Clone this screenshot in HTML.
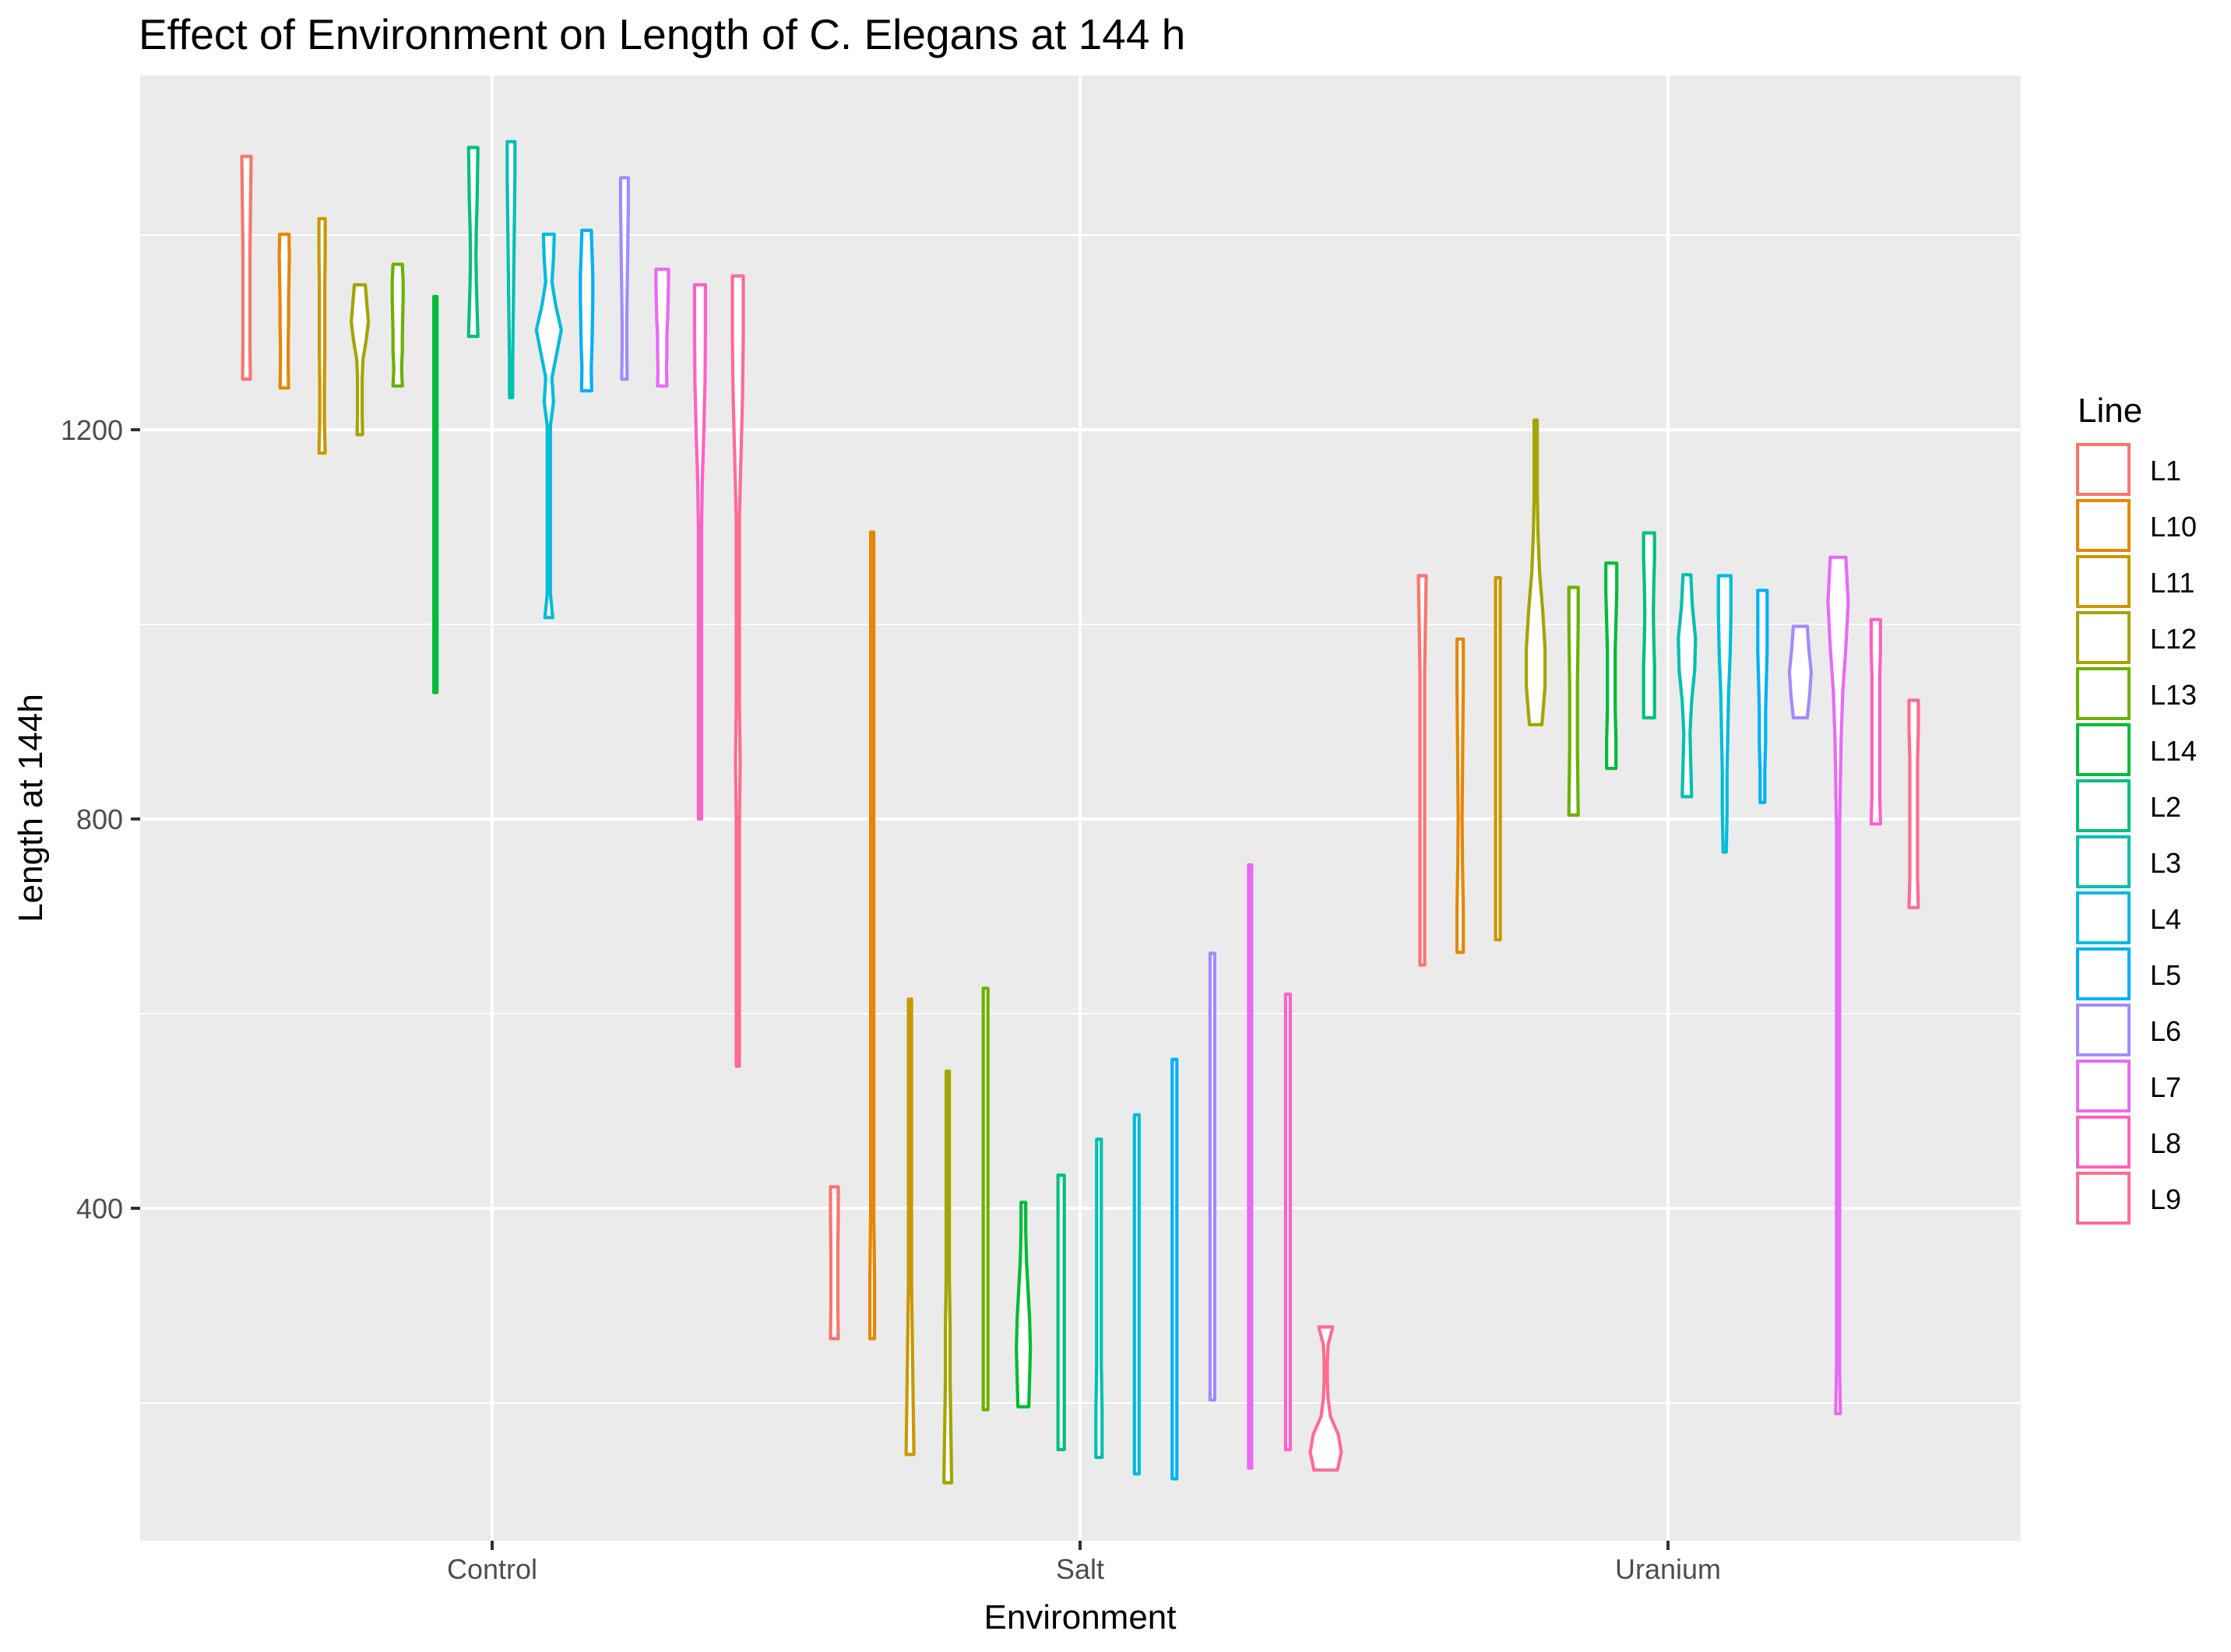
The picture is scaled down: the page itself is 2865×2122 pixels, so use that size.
<!DOCTYPE html>
<html><head><meta charset="utf-8"><style>
html,body{margin:0;padding:0;background:#fff;}
svg text{font-family:"Liberation Sans",sans-serif;}
</style></head><body>
<svg id="chart" width="2865" height="2117" viewBox="0 0 2865 2117" xmlns="http://www.w3.org/2000/svg">
<rect x="0" y="0" width="2865" height="2117" fill="#fff"/>
<text x="178" y="63" font-size="55" fill="#000">Effect of Environment on Length of C. Elegans at 144 h</text>
<rect x="180" y="97" width="2415" height="1882" fill="#EBEBEB"/>
<g id="grid"></g>
<g id="violins"></g>
<g id="axes"></g>
<text transform="translate(54,1038) rotate(-90)" text-anchor="middle" font-size="44" fill="#000">Length at 144h</text>
<text x="1387" y="2092" text-anchor="middle" font-size="44" fill="#000">Environment</text>
<g id="legend">
<text x="2668" y="542" font-size="44" fill="#000">Line</text>
</g>
</svg>
<script>
const environments = ["Control","Salt","Uranium"];
const lines = ["L1","L10","L11","L12","L13","L14","L2","L3","L4","L5","L6","L7","L8","L9"];
const colors = ["#F8766D","#E58700","#C99800","#A3A500","#6BB100","#00BA38","#00BF7D","#00C0AF","#00BCD8","#00B0F6","#A58AFF","#E76BF3","#FF61C3","#FF6C91"];
const yTicks = [400,800,1200];
const yMinor = [200,600,1000,1400];
// [max, min] per line, per environment
const controlRange = [[1481,1252],[1401,1243],[1417,1176],[1349,1195],[1370,1245],[1337,930],[1490,1296],[1496,1233],[1401,1007],[1405,1240],[1459,1252],[1365,1245],[1349,800],[1358,546]];
const saltRange = [[422,266],[1095,266],[615,147],[541,118],[626,193],[406,196],[434,152],[471,144],[496,127],[553,122],[662,203],[753,133],[620,152],[278,131]];
const uraniumRange = [[1050,650],[985,663],[1048,676],[1210,897],[1038,804],[1063,852],[1094,904],[1051,823],[1050,766],[1035,817],[998,904],[1069,189],[1005,795],[922,709]];
// density profiles (relative half-widths from top to bottom)
const controlDensity = [[6,5.5,5,4.5,4.5,4.5,4.5,5],[6,6.5,6,5.5,5.5,5,5,5.5],[4,4,3.5,3.5,3.5,3,3,4],[7,9,11,8,4,3,3,3,3.5],[6,7,7,6.5,6,6,5,6],[2,2,2,2,2,2,2,2,2],[6,5.5,5,4,3.5,4,5,6],[5,5,4.5,4,3.5,3,2.5,2,2],[7,6,4,9,16,10,4,6,2,2,2,2,2,2,2,2,5],[6,7,8,8,7.5,7,6,6.5],[5,5,4.5,4,3.5,3,3,3.5],[8,8,7.5,7,6,6,5.5,6],[7,7,6.5,5,3,2,2,2,2,2,2,2],[7,7,6,4,2,2,2,2,3,2,2,2,2,2]];
const saltDensity = [[5,5,4.5,4.5,4.5,5],[2,2,2,2,2,2,2,2,2,2,2,2,3,3],[2,2,2,2,2,2,3,4,5],[2,2,2,2,2,3,3,4,5],[3,3,3,3,3,3,3,3],[3,3,4,6,8,9,8,7],[4,4,4,4,4,4,4,4],[3,3,3,3,3,3,4,4],[3,3,3,3,3,3,3,3],[3,3,3,3,3,3,3,3],[3,3,3,3,3,3,3,3],[2,2,2,2,2,2,2,2],[3,3,3,3,3,3,3,3],[9,3,2,2,3,6,16,20,15]];
const uraniumDensity = [[5,4,3,3,3,3,3,3,3],[4,4,3.5,3,2.5,3,4,4],[3,3,3,3,3,3,3,3],[2,2,2,3,5,9,12,12,8],[6,6,5.5,5,5,5,5.5,6],[7,7,6,5,5,5,6,6],[7,7,6,5.5,6,7,7,7],[5,7,11,10,6,4,5,6],[8,8,7,5,4,3,3,2],[6,6,6,5,4,4,3,3],[9,11,14,12,9],[10,13,10,6,4,3,2,2,2,2,2,2,2,2,2,2,2,2,2,3],[6,6,5,5,5,5,5,6],[6,6,5,5,5,5,5,6]];

const NS="http://www.w3.org/2000/svg";
const P={l:180,r:2595,t:97,b:1979};
function Y(v){return 552+(1200-v)*1.25;}
function X(i){return 632+i*755;}
const slot=755*0.9/14;
function mk(tag,attrs,parent){const e=document.createElementNS(NS,tag);for(const k in attrs)e.setAttribute(k,attrs[k]);parent.appendChild(e);return e;}
const grid=document.getElementById('grid');
yMinor.forEach(v=>{const l=mk('line',{x1:P.l,x2:P.r,y1:Y(v),y2:Y(v),stroke:'#fff','stroke-width':2},grid);

});
yTicks.forEach(v=>{const l=mk('line',{x1:P.l,x2:P.r,y1:Y(v),y2:Y(v),stroke:'#fff','stroke-width':4},grid);

});
environments.forEach((e,i)=>{const l=mk('line',{x1:X(i),x2:X(i),y1:P.t,y2:P.b,stroke:'#fff','stroke-width':4},grid);

});
const axes=document.getElementById('axes');
yTicks.forEach(v=>{const t=mk('line',{x1:168,x2:180,y1:Y(v),y2:Y(v),stroke:'#333','stroke-width':4},axes);


const tx=mk('text',{x:158,y:Y(v)+13,'text-anchor':'end','font-size':36,fill:'#4D4D4D'},axes);tx.textContent=v;

});
environments.forEach((e,i)=>{const t=mk('line',{x1:X(i),x2:X(i),y1:P.b,y2:P.b+12,stroke:'#333','stroke-width':4},axes);


const tx=mk('text',{x:X(i),y:2028,'text-anchor':'middle','font-size':36,fill:'#4D4D4D'},axes);tx.textContent=e;

});
const vg=document.getElementById('violins');
const ranges=[controlRange,saltRange,uraniumRange];
const dens=[controlDensity,saltDensity,uraniumDensity];
environments.forEach((env,gi)=>{lines.forEach((ln,k)=>{
 const [hi,lo]=ranges[gi][k];const d=dens[gi][k];const n=d.length;
 const cx=X(gi)+(k-6.5)*slot;
 const right=[],left=[];
 for(let j=0;j<n;j++){const v=hi-(hi-lo)*j/(n-1);const y=Y(v);right.push([cx+d[j],y]);left.push([cx-d[j],y]);}
 const pts=right.concat(left.reverse());
 const p=mk('path',{d:'M'+pts.map(q=>q[0].toFixed(1)+','+q[1].toFixed(1)).join('L')+'Z',fill:'#fff',stroke:colors[k],'stroke-width':4.2,'stroke-linejoin':'round'},vg);
 
 
});});
const lg=document.getElementById('legend');
lines.forEach((ln,k)=>{const y=569+k*72;
 const r=mk('rect',{x:2668,y:y+2,width:66,height:64,fill:'#fff',stroke:colors[k],'stroke-width':4},lg);
 
 
 const t=mk('text',{x:2761,y:y+48,'font-size':36,fill:'#000'},lg);t.textContent=ln;
 
 
});
</script>
</body></html>
